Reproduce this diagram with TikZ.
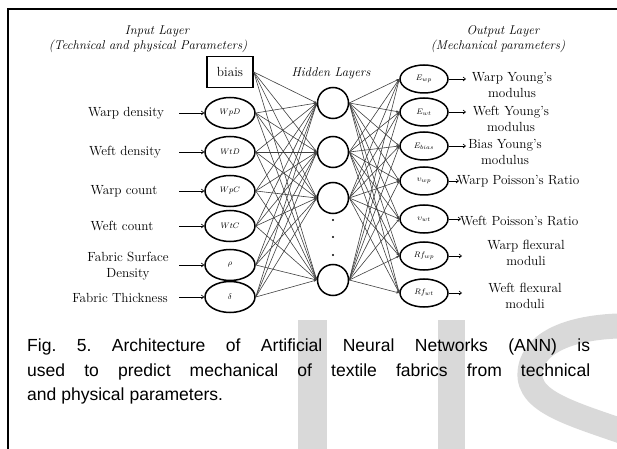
\documentclass[tikz,border=0pt]{standalone}
\usepackage{fontspec}
\newfontfamily\capfont{Liberation Sans}
\usetikzlibrary{shapes.geometric,arrows.meta}
\begin{document}
\begin{tikzpicture}[x=1bp,y=-1bp,
  inp/.style={ellipse, draw, line width=1.5bp, minimum width=50bp, minimum height=31bp, inner sep=0pt, font=\fontsize{8.5}{10}\selectfont},
  outn/.style={ellipse, draw, line width=1.5bp, minimum width=48bp, minimum height=28bp, inner sep=0pt, font=\fontsize{8.5}{10}\selectfont},
  hid/.style={circle, draw, line width=1.5bp, minimum size=31bp, inner sep=0pt},
  lbl/.style={font=\fontsize{13.3}{16.5}\selectfont, align=center, inner sep=0pt},
  hdr/.style={font=\itshape\fontsize{12.8}{16}\selectfont, inner sep=0pt},
  conn/.style={draw=black!75, line width=0.6bp, -{Stealth[length=3bp,width=2.4bp]}},
  arr/.style={line width=0.6bp, -{Straight Barb[length=2.5bp,width=4bp]}},
  wm/.style={fill=black!15, draw=none}]
\useasboundingbox (0,0) rectangle (617,449);
% watermark
\begin{scope}
\clip (0,0) rectangle (617,449);
\fill[wm] (298,320) rectangle (327,449);
\fill[wm] (438,320) rectangle (465,449);
\draw[draw=black!15, line width=25bp] (660,327) .. controls (572,320) and (528,343) .. (530,377) .. controls (533,408) and (590,418) .. (660,445);
\end{scope}
% frame
\draw[line width=2bp] (8,449) -- (8,9) -- (617,9);
% headers
\node[hdr] (ih1) at (157,31) {Input Layer};
\node[hdr] (ih2) at (148,46) {(Technical and physical Parameters)};
\node[hdr] (hh) at (331,73) {Hidden Layers};
\node[hdr] (oh1) at (503,31) {Output Layer};
\node[hdr] (oh2) at (498,46) {(Mechanical parameters)};
% input layer
\node[draw, line width=1.5bp, minimum width=46bp, minimum height=31bp, inner sep=0pt, font=\fontsize{13.3}{16}\selectfont] (b) at (230,72) {biais};
\node[inp] (i1) at (230,113) {$WpD$};
\node[inp] (i2) at (230,152) {$WtD$};
\node[inp] (i3) at (230,191) {$WpC$};
\node[inp] (i4) at (230,226) {$WtC$};
\node[inp] (i5) at (230,265) {$\rho$};
\node[inp] (i6) at (230,297) {$\delta$};
\node[lbl] (l1) at (126,113) {Warp density};
\node[lbl] (l2) at (125,152) {Weft density};
\node[lbl] (l3) at (124,191) {Warp count};
\node[lbl] (l4) at (122,226) {Weft count};
\node[lbl] (l5) at (128,266) {Fabric Surface\\Density};
\node[lbl] (l6) at (120,298) {Fabric Thickness};
\coordinate (a1) at (179,113);
\coordinate (a2) at (179,152);
\coordinate (a3) at (179,191);
\coordinate (a4) at (179,226);
\coordinate (a5) at (179,265);
\coordinate (a6) at (179,297);
\foreach \k in {1,...,6} \draw[arr] (a\k) -- (i\k.west);
% hidden layer
\node[hid] (h1) at (333,103) {};
\node[hid] (h2) at (333,152) {};
\node[hid] (h3) at (333,198) {};
\node[hid] (h4) at (333,280) {};
\foreach \yy [count=\k] in {220,237,255} \fill (333,\yy) circle (1.1bp) coordinate (d\k);
% output layer
\node[outn] (o1) at (424,79) {$E_{wp}$};
\node[outn] (o2) at (424,112) {$E_{wt}$};
\node[outn] (o3) at (424,146) {$E_{bias}$};
\node[outn] (o4) at (424,181) {$\upsilon_{wp}$};
\node[outn] (o5) at (424,219) {$\upsilon_{wt}$};
\node[outn] (o6) at (424,256) {$Rf_{wp}$};
\node[outn] (o7) at (424,293) {$Rf_{wt}$};
\node[lbl] (r1) at (512,85) {Warp Young's\\modulus};
\node[lbl] (r2) at (511,119) {Weft Young's\\modulus};
\node[lbl] (r3) at (505,152) {Bias Young's\\modulus};
\node[lbl, anchor=west] (r4) at (457,181) {Warp Poisson's Ratio};
\node[lbl, anchor=west] (r5) at (460,221) {Weft Poisson's Ratio};
\node[lbl] (r6) at (526,253) {Warp flexural\\moduli};
\node[lbl] (r7) at (525,296) {Weft flexural\\moduli};
\coordinate (e1) at (466,79);
\coordinate (e2) at (466,112);
\coordinate (e3) at (466,146);
\coordinate (e4) at (459,181);
\coordinate (e5) at (461,219);
\coordinate (e6) at (462,256);
\coordinate (e7) at (462,293);
\foreach \k in {1,...,7} \draw[arr] (o\k.east) -- (e\k);
% connections
\foreach \s in {b,i1,i2,i3,i4,i5,i6}
  \foreach \h in {h1,h2,h3,h4}
    \draw[conn] (\s.east) -- (\h.west);
\foreach \h in {h1,h2,h3,h4}
  \foreach \o in {o1,o2,o3,o4,o5,o6,o7}
    \draw[conn] (\h.east) -- (\o.west);
% caption
\node[anchor=north west, text width=563bp, align=justify, inner sep=0pt,
      font=\capfont\fontsize{17.6}{24.5}\selectfont\frenchspacing] (cap) at (27,339)
  {Fig. 5. Architecture of Artificial Neural Networks (ANN) is\linebreak used to predict mechanical of textile fabrics from technical\linebreak and physical parameters.};
\end{tikzpicture}
\end{document}
